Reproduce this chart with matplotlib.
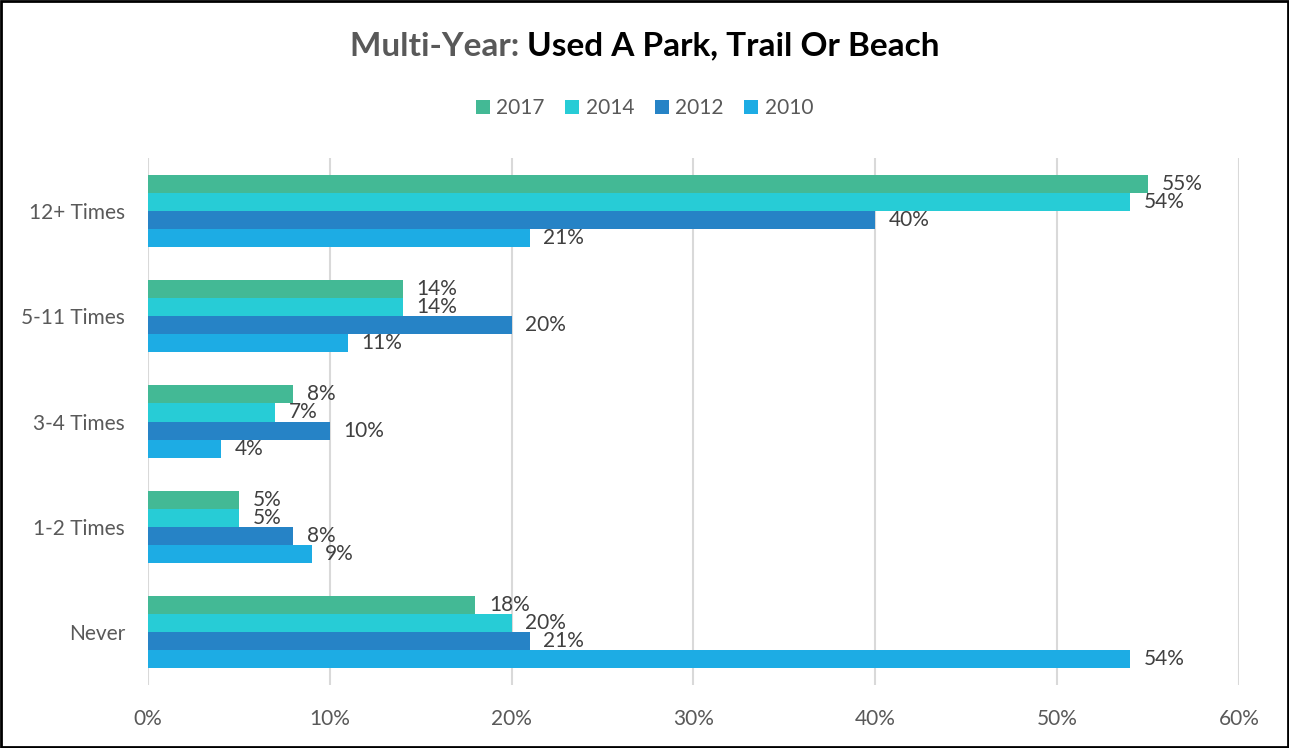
import matplotlib
matplotlib.use("Agg")
import matplotlib.pyplot as plt
from matplotlib.patches import Rectangle
import numpy as np

categories = ["12+ Times", "5-11 Times", "3-4 Times", "1-2 Times", "Never"]
years = ["2017", "2014", "2012", "2010"]
values = {
    "2017": [55, 14, 8, 5, 18],
    "2014": [54, 14, 7, 5, 20],
    "2012": [40, 20, 10, 8, 21],
    "2010": [21, 11, 4, 9, 54],
}
colors = {"2017": "#43B995", "2014": "#27CCD6", "2012": "#2683C6", "2010": "#1DACE4"}
xticks = [0, 10, 20, 30, 40, 50, 60]

plt.rcParams["font.family"] = ["Lato", "DejaVu Sans"]

fig = plt.figure(figsize=(12.89, 7.48), dpi=100)
ax = fig.add_axes([148 / 1289, 1 - 685 / 748, (1239 - 148) / 1289, (685 - 158) / 748])

n = len(years)
bar_h = 0.171
y_pos = np.arange(len(categories))
for i, yr in enumerate(years):
    offs = (i - (n - 1) / 2) * bar_h
    ys = y_pos + offs
    ax.barh(ys, values[yr], height=bar_h, color=colors[yr], label=yr, zorder=3)
    for yy, v in zip(ys, values[yr]):
        ax.text(v + 0.75, yy, f"{v}%", va="center", ha="left", fontsize=15,
                color="#404040", zorder=4)

ax.set_xlim(0, 60)
ax.set_ylim(len(categories) - 0.5, -0.5)
ax.set_yticks(y_pos)
ax.set_yticklabels(categories, fontsize=15, color="#595959")
ax.set_xticks(xticks)
ax.set_xticklabels([f"{t}%" for t in xticks], fontsize=15, color="#595959")
ax.tick_params(axis="both", length=0)
ax.tick_params(axis="x", pad=17)
ax.tick_params(axis="y", pad=16.5)
ax.grid(axis="x", color="#D9D9D9", linewidth=1.5, zorder=0)
for s in ax.spines.values():
    s.set_visible(False)

handles, labels = ax.get_legend_handles_labels()
fig.legend(handles, labels, loc="center", bbox_to_anchor=(0.5, 1 - 108 / 748), ncol=4,
           frameon=False, fontsize=15, handlelength=0.67, handleheight=0.67,
           handletextpad=0.3, columnspacing=1.0, labelcolor="#595959")

# Two-tone title
fig.canvas.draw()
renderer = fig.canvas.get_renderer()
ty = 1 - 46 / 748
t1 = fig.text(0, ty, "Multi-Year: ", fontsize=24, fontweight="bold", color="#595959",
              va="center", ha="left")
t2 = fig.text(0, ty, "Used A Park, Trail Or Beach", fontsize=24, fontweight="bold",
              color="black", va="center", ha="left")
w1 = t1.get_window_extent(renderer).width / fig.bbox.width
w2 = t2.get_window_extent(renderer).width / fig.bbox.width
x0 = 0.5 - (w1 + w2) / 2
t1.set_x(x0)
t2.set_x(x0 + w1)

fig.patches.append(Rectangle((0.0008, 0.0013), 0.9984, 0.9974, transform=fig.transFigure,
                             fill=False, edgecolor="black", linewidth=2))

fig.savefig("out.png", dpi=100)
